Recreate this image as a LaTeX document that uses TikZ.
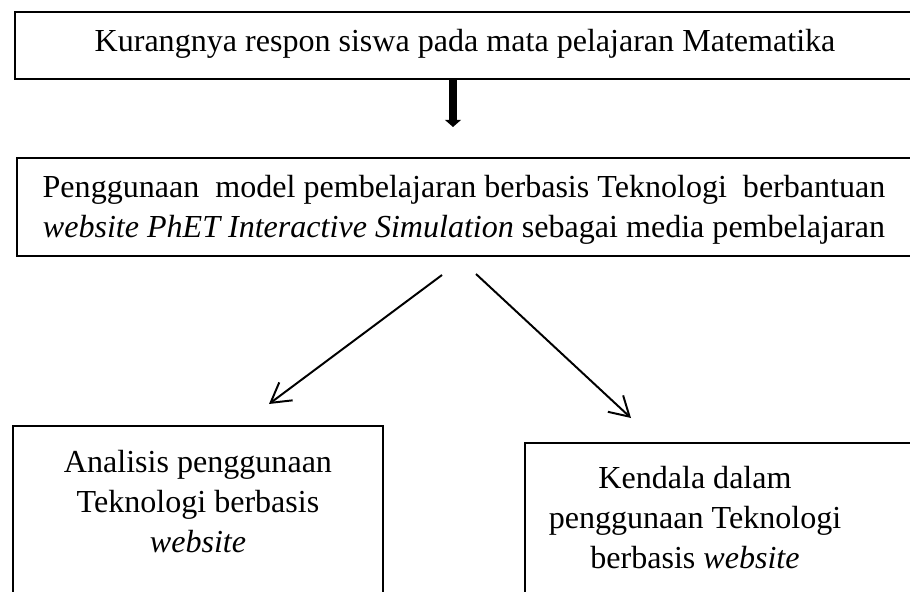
\documentclass[tikz,border=0pt]{standalone}
\usepackage{fontspec}
\setmainfont{Liberation Serif}
\usepackage{tikz}
\usetikzlibrary{arrows.meta,positioning}
\tikzstyle{kotak} = [draw, line width=1.3pt, inner sep=0pt]
\tikzstyle{teks} = [align=center, inner sep=0pt, font=\fontsize{22.8}{28.45}\selectfont]
\tikzstyle{panah} = [line width=1.4pt, -{Straight Barb[length=0.48cm,width=0.56cm]}]
\tikzstyle{panahtebal} = [line width=0.2cm, -{Triangle[length=0.18cm,width=0.4cm]}]

\begin{document}
\begin{tikzpicture}[x=0.025cm, y=-0.025cm]
\useasboundingbox (0,0) rectangle (910,592);

% Kotak
\node[kotak, minimum width=22.525cm, minimum height=1.675cm] (masalah) at (465.5,45.5) {};
\node[kotak, minimum width=22.375cm, minimum height=2.45cm] (model) at (464.5,207) {};
\node[kotak, minimum width=9.25cm, minimum height=5.85cm] (analisis) at (198,543) {};
\node[kotak, minimum width=10cm, minimum height=5.425cm] (kendala) at (725,551.5) {};

% Teks
\node[teks, anchor=base] (tmasalah) at (465,51) {Kurangnya respon siswa pada mata pelajaran Matematika};
\node[teks] (tmodel) at (464,209.5) {Penggunaan~ model pembelajaran berbasis Teknologi~ berbantuan\\
  \textit{website PhET Interactive Simulation} sebagai media pembelajaran};
\node[teks] (tanalisis) at (198,502) {Analisis penggunaan\\Teknologi berbasis\\\textit{website}};
\node[teks] (tkendala) at (695,518) {Kendala dalam\\penggunaan Teknologi\\berbasis \textit{website}};

% Panah
\coordinate (ujungatas) at (453,127);
\coordinate (cabangkiri) at (442,275);
\coordinate (tujukiri) at (269,404);
\coordinate (cabangkanan) at (476,274);
\coordinate (tujukanan) at (631,418);
\draw[panahtebal] (masalah.south -| ujungatas) -- (ujungatas);
\draw[panah] (cabangkiri) -- (tujukiri);
\draw[panah] (cabangkanan) -- (tujukanan);
\end{tikzpicture}
\end{document}
